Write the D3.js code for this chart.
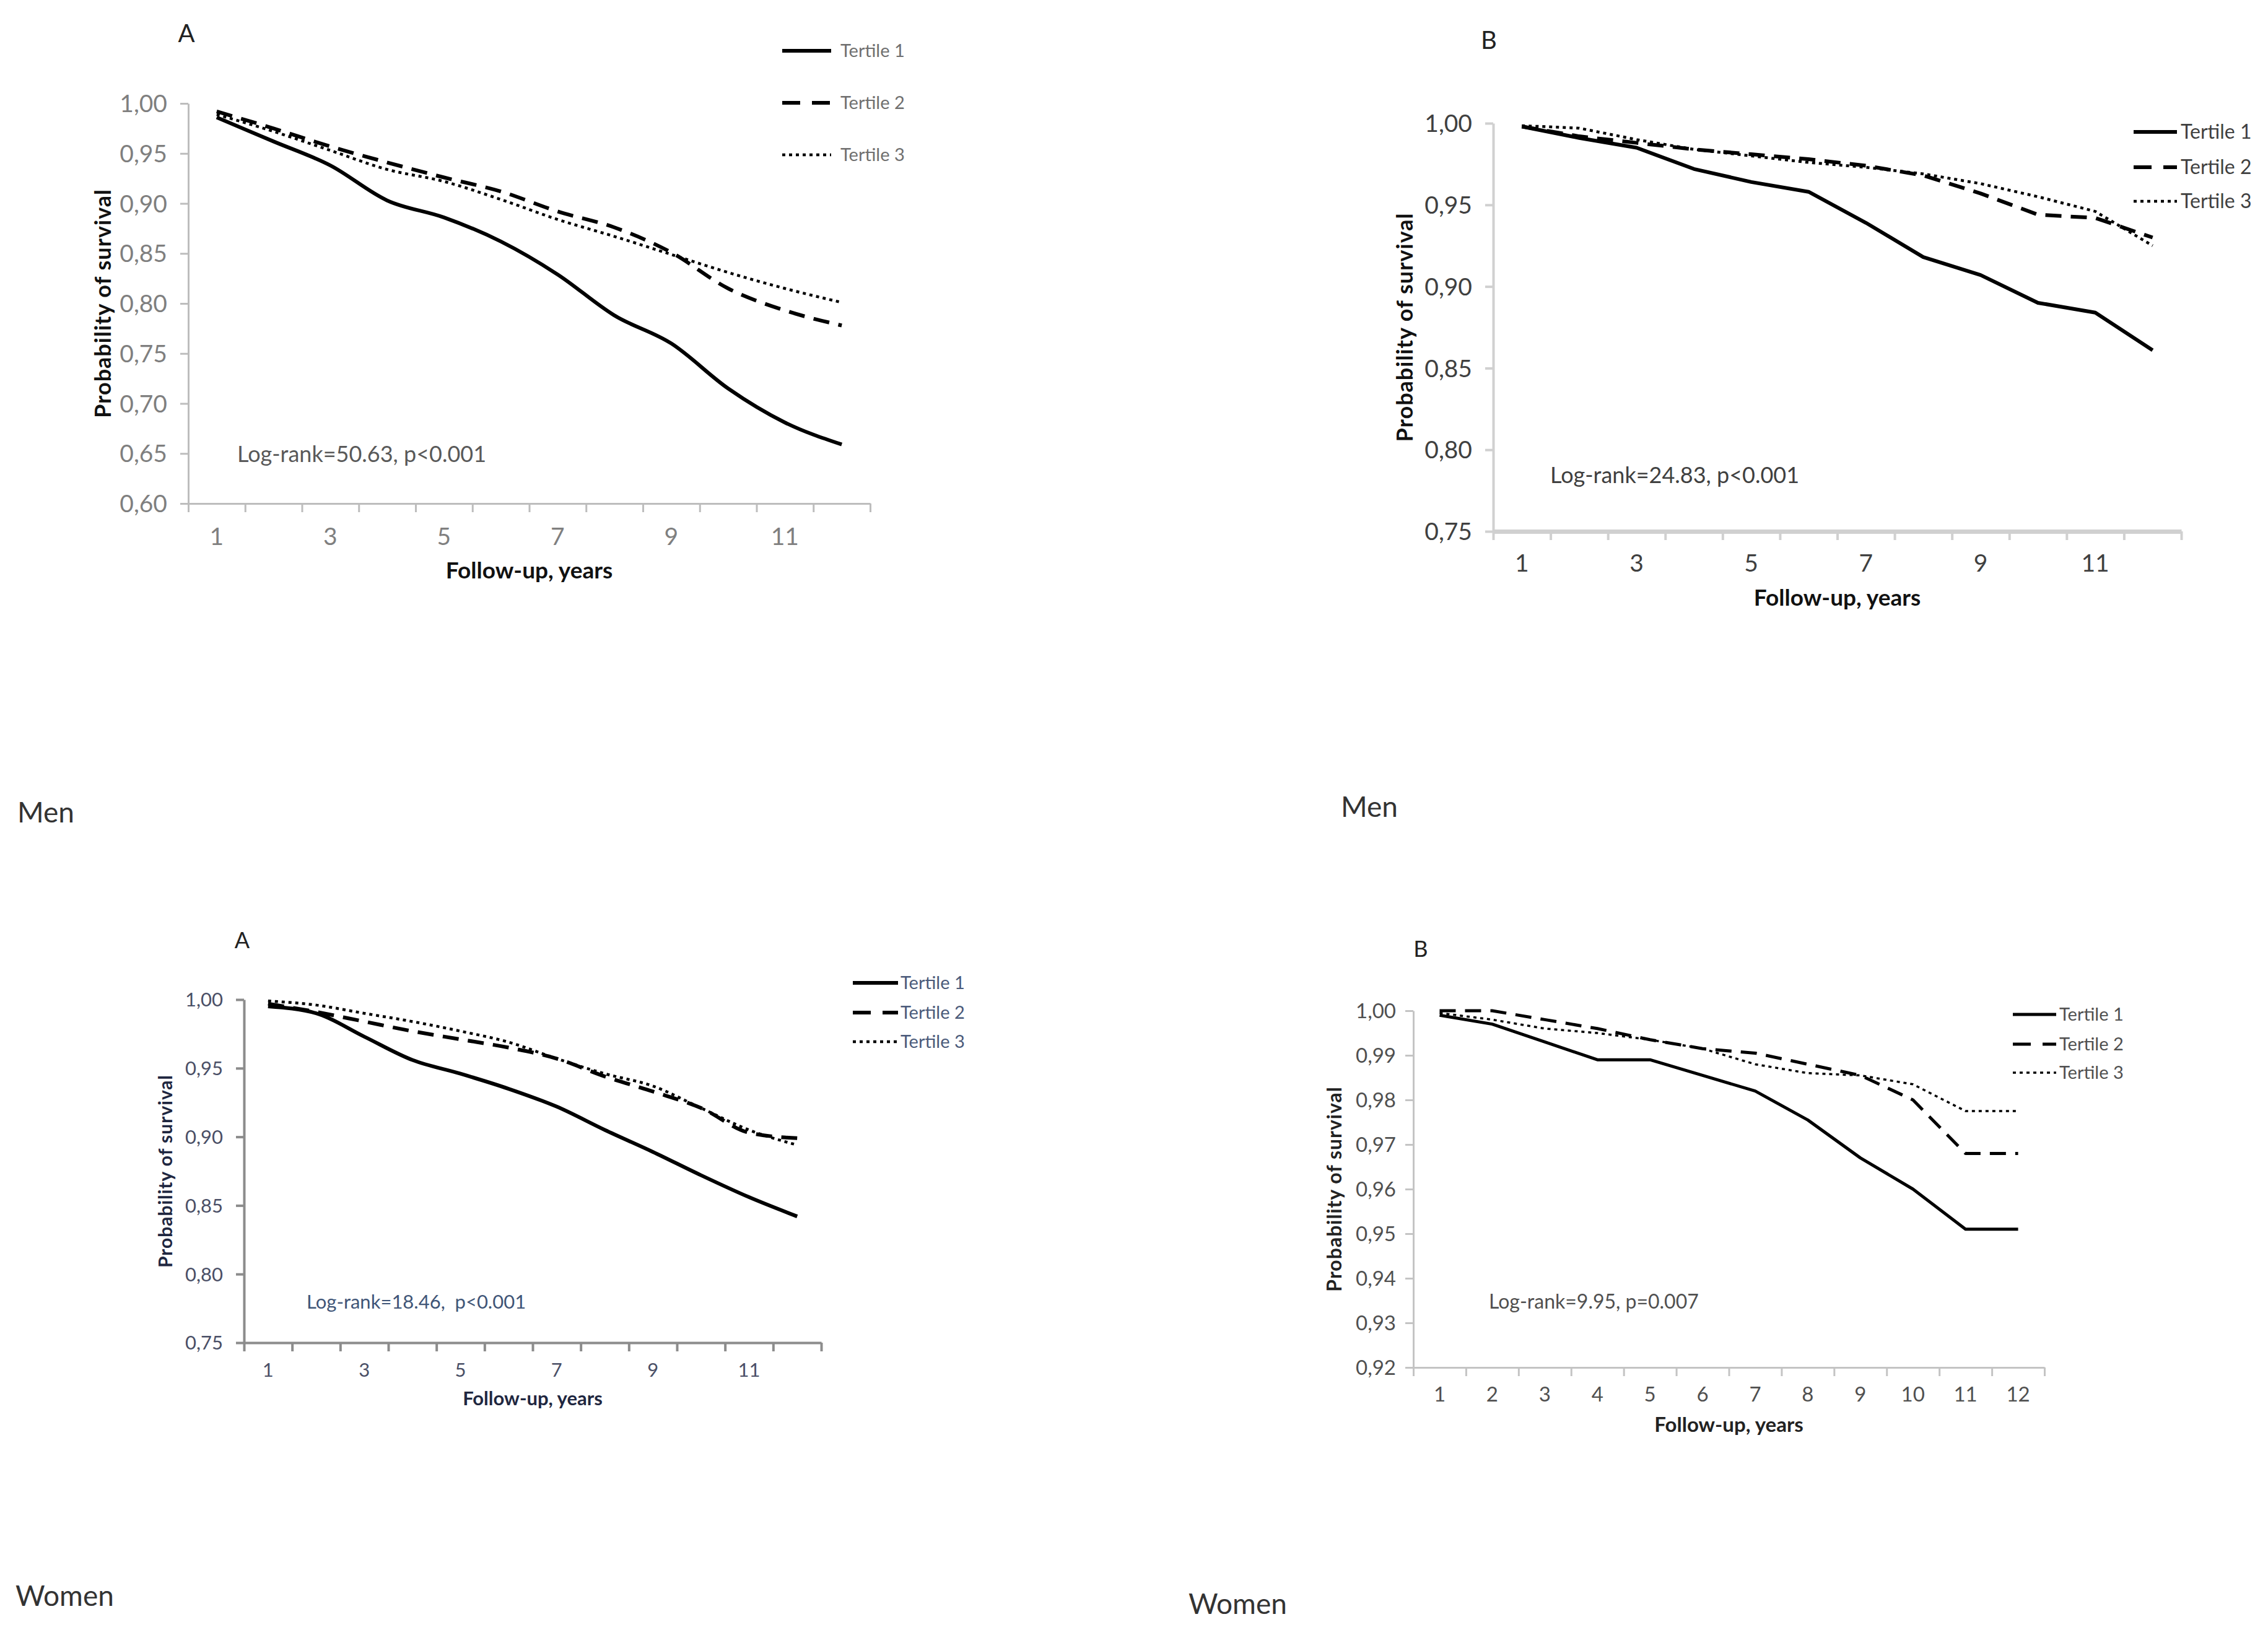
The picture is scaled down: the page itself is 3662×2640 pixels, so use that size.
<!DOCTYPE html>
<html>
<head>
<meta charset="utf-8">
<script src="https://cdn.jsdelivr.net/npm/d3@7"></script>
<style>
  html, body { margin: 0; padding: 0; background: #fff; }
  svg text { font-family: Lato, "Open Sans", sans-serif; }
</style>
</head>
<body>
<div id="chart"></div>
<script>
// follow-up years (categories)
var years = [1, 2, 3, 4, 5, 6, 7, 8, 9, 10, 11, 12];
var seriesNames = ["Tertile 1", "Tertile 2", "Tertile 3"];

// Men, panel A
var menA_t1 = [0.986, 0.962, 0.938, 0.903, 0.886, 0.862, 0.829, 0.788, 0.760, 0.715, 0.681, 0.659];
var menA_t2 = [0.992, 0.975, 0.957, 0.941, 0.926, 0.912, 0.892, 0.876, 0.851, 0.815, 0.793, 0.778];
var menA_t3 = [0.989, 0.972, 0.953, 0.934, 0.922, 0.904, 0.884, 0.867, 0.849, 0.831, 0.815, 0.801];
// Men, panel B
var menB_t1 = [0.998, 0.991, 0.985, 0.972, 0.964, 0.958, 0.939, 0.918, 0.907, 0.890, 0.884, 0.861];
var menB_t2 = [0.998, 0.992, 0.988, 0.984, 0.981, 0.978, 0.974, 0.968, 0.957, 0.944, 0.942, 0.930];
var menB_t3 = [0.9985, 0.997, 0.990, 0.984, 0.980, 0.976, 0.973, 0.969, 0.963, 0.955, 0.946, 0.925];
// Women, panel A
var womenA_t1 = [0.995, 0.990, 0.973, 0.956, 0.946, 0.935, 0.922, 0.905, 0.889, 0.872, 0.856, 0.842];
var womenA_t2 = [0.997, 0.991, 0.984, 0.977, 0.971, 0.965, 0.957, 0.944, 0.933, 0.921, 0.903, 0.899];
var womenA_t3 = [0.999, 0.996, 0.990, 0.984, 0.977, 0.969, 0.957, 0.946, 0.937, 0.921, 0.905, 0.894];
// Women, panel B
var womenB_t1 = [0.999, 0.997, 0.993, 0.989, 0.989, 0.9855, 0.982, 0.9755, 0.967, 0.960, 0.951, 0.951];
var womenB_t2 = [1.000, 1.000, 0.998, 0.996, 0.9935, 0.9915, 0.9905, 0.988, 0.9855, 0.980, 0.968, 0.968];
var womenB_t3 = [0.9995, 0.998, 0.996, 0.995, 0.9935, 0.9915, 0.988, 0.986, 0.9855, 0.9835, 0.9775, 0.9775];

// tick labels
var yTicksMenA = [0.60, 0.65, 0.70, 0.75, 0.80, 0.85, 0.90, 0.95, 1.00];
var yTicksMenB = [0.75, 0.80, 0.85, 0.90, 0.95, 1.00];
var yTicksWomenA = [0.75, 0.80, 0.85, 0.90, 0.95, 1.00];
var yTicksWomenB = [0.92, 0.93, 0.94, 0.95, 0.96, 0.97, 0.98, 0.99, 1.00];
var xLabelsOdd = [1, 3, 5, 7, 9, 11];
var xLabelsAll = [1, 2, 3, 4, 5, 6, 7, 8, 9, 10, 11, 12];

var panelLetters = ["A", "B", "A", "B"];
var logRankTexts = ["Log-rank=50.63, p<0.001", "Log-rank=24.83, p<0.001", "Log-rank=18.46,  p<0.001", "Log-rank=9.95, p=0.007"];
var sexLabels = ["Men", "Men", "Women", "Women"];

var W = 3662, H = 2640;
var svg = d3.select("#chart").append("svg")
    .attr("width", W)
    .attr("height", H)
    .attr("viewBox", "0 0 " + W + " " + H);

var dashes = [null, "26,15", "5,6"];

// layout of each panel (pixels)
var panels = [
    {
        series: [menA_t1, menA_t2, menA_t3], yTicks: yTicksMenA, xLabels: xLabelsOdd,
        left: 304, right: 1405, top: 167, bottom: 813, smooth: true,
        axisColor: "#bdbdbd", axisWidth: 3, tickColor: "#7f7f7f", tickFont: 39, tickGap: 34,
        xLabelY: 866, titleY: 921, titleFont: 37, yTitleFont: 36, titleColor: "#111",
        yTitleX: 166, letter: [301, 54], letterFont: 40,
        logRank: [383, 733], logFont: 36, logColor: "#595959",
        legend: { x1: 1263, x2: 1342, tx: 1357, ys: [82, 166, 250], font: 29, color: "#6f6f6f" },
        lineWidth: 6
    },
    {
        series: [menB_t1, menB_t2, menB_t3], yTicks: yTicksMenB, xLabels: xLabelsOdd,
        left: 2411, right: 3522, top: 199, bottom: 858, smooth: false,
        axisColor: "#d0d0d0", axisWidth: 4, tickColor: "#404040", tickFont: 39, tickGap: 34,
        xLabelY: 909, titleY: 965, titleFont: 37, yTitleFont: 36, titleColor: "#111",
        yTitleX: 2268, letter: [2404, 65], letterFont: 40,
        logRank: [2503, 767], logFont: 36, logColor: "#404040",
        legend: { x1: 3445, x2: 3515, tx: 3521, ys: [213, 270, 325], font: 32, color: "#404040" },
        lineWidth: 6
    },
    {
        series: [womenA_t1, womenA_t2, womenA_t3], yTicks: yTicksWomenA, xLabels: xLabelsOdd,
        left: 394, right: 1326, top: 1614, bottom: 2168, smooth: true,
        axisColor: "#8c8c8c", axisWidth: 4, tickColor: "#4a4f66", tickFont: 31, tickGap: 34,
        xLabelY: 2212, titleY: 2258, titleFont: 31, yTitleFont: 30, titleColor: "#1f2740",
        yTitleX: 267, letter: [391, 1518], letterFont: 36,
        logRank: [495, 2102], logFont: 31, logColor: "#3f5577",
        legend: { x1: 1377, x2: 1450, tx: 1454, ys: [1587, 1635, 1682], font: 29, color: "#4a5a7a" },
        lineWidth: 6
    },
    {
        series: [womenB_t1, womenB_t2, womenB_t3], yTicks: yTicksWomenB, xLabels: xLabelsAll,
        left: 2282, right: 3301, top: 1632, bottom: 2208, smooth: false,
        axisColor: "#c4c4c4", axisWidth: 3, tickColor: "#505050", tickFont: 33, tickGap: 28,
        xLabelY: 2251, titleY: 2300, titleFont: 33, yTitleFont: 32, titleColor: "#222",
        yTitleX: 2155, letter: [2294, 1532], letterFont: 36,
        logRank: [2404, 2102], logFont: 32, logColor: "#505050",
        legend: { x1: 3250, x2: 3320, tx: 3325, ys: [1638, 1686, 1732], font: 29, color: "#505050" },
        lineWidth: 5
    }
];

function comma(d) { return d.toFixed(2).replace(".", ","); }

panels.forEach(function (p, pi) {
    var g = svg.append("g");

    var x = d3.scaleLinear().domain([0.5, 12.5]).range([p.left, p.right]);
    var y = d3.scaleLinear().domain([d3.min(p.yTicks), d3.max(p.yTicks)]).range([p.bottom, p.top]);

    // y axis
    var yAxis = g.append("g")
        .attr("transform", "translate(" + p.left + ",0)")
        .call(d3.axisLeft(y).tickValues(p.yTicks).tickFormat(comma).tickSize(13).tickSizeOuter(0).tickPadding(p.tickGap - 13));
    yAxis.select(".domain").attr("stroke", p.axisColor).attr("stroke-width", p.axisWidth);
    yAxis.selectAll(".tick line").attr("stroke", p.axisColor).attr("stroke-width", p.axisWidth);
    yAxis.selectAll(".tick text").attr("fill", p.tickColor).attr("font-size", p.tickFont).attr("dy", "0.35em");

    // x axis: tick marks between categories
    var edges = d3.range(0.5, 13, 1);
    var xAxis = g.append("g")
        .attr("transform", "translate(0," + p.bottom + ")")
        .call(d3.axisBottom(x).tickValues(edges).tickFormat("").tickSize(14).tickSizeOuter(0));
    xAxis.select(".domain").attr("stroke", p.axisColor).attr("stroke-width", pi == 1 ? 7 : p.axisWidth);
    xAxis.selectAll(".tick line").attr("stroke", p.axisColor).attr("stroke-width", p.axisWidth);

    // x labels at category centres
    g.append("g").selectAll("text")
        .data(p.xLabels)
        .enter()
        .append("text")
        .attr("x", function (d) { return x(d); })
        .attr("y", p.xLabelY)
        .attr("dy", "0.35em")
        .attr("text-anchor", "middle")
        .attr("font-size", p.tickFont)
        .attr("fill", p.tickColor)
        .text(function (d) { return d; });

    // axis titles
    g.append("text")
        .attr("x", (p.left + p.right) / 2)
        .attr("y", p.titleY)
        .attr("dy", "0.35em")
        .attr("text-anchor", "middle")
        .attr("font-weight", "bold")
        .attr("font-size", p.titleFont)
        .attr("fill", p.titleColor)
        .text("Follow-up, years");

    g.append("text")
        .attr("transform", "translate(" + p.yTitleX + "," + (p.top + p.bottom) / 2 + ") rotate(-90)")
        .attr("dy", "0.35em")
        .attr("text-anchor", "middle")
        .attr("font-weight", "bold")
        .attr("font-size", p.yTitleFont)
        .attr("letter-spacing", 1)
        .attr("fill", p.titleColor)
        .text("Probability of survival");

    // panel letter
    g.append("text")
        .attr("x", p.letter[0])
        .attr("y", p.letter[1])
        .attr("dy", "0.35em")
        .attr("text-anchor", "middle")
        .attr("font-size", p.letterFont)
        .attr("fill", "#222")
        .text(panelLetters[pi]);

    // log-rank annotation
    g.append("text")
        .attr("x", p.logRank[0])
        .attr("y", p.logRank[1])
        .attr("dy", "0.35em")
        .attr("font-size", p.logFont)
        .attr("fill", p.logColor)
        .style("white-space", "pre")
        .text(logRankTexts[pi]);

    // survival lines
    var line = d3.line()
        .x(function (d, i) { return x(years[i]); })
        .y(function (d) { return y(d); })
        .curve(p.smooth ? d3.curveMonotoneX : d3.curveLinear);

    p.series.forEach(function (s, si) {
        g.append("path")
            .datum(s)
            .attr("d", line)
            .attr("fill", "none")
            .attr("stroke", "#000")
            .attr("stroke-width", si == 2 ? p.lineWidth - 1.5 : p.lineWidth)
            .attr("stroke-dasharray", dashes[si])
            .attr("stroke-linejoin", "round");
    });

    // legend
    seriesNames.forEach(function (name, si) {
        var ly = p.legend.ys[si];
        g.append("line")
            .attr("x1", p.legend.x1).attr("x2", p.legend.x2)
            .attr("y1", ly).attr("y2", ly)
            .attr("stroke", "#000")
            .attr("stroke-width", si == 2 ? p.lineWidth - 1.5 : p.lineWidth)
            .attr("stroke-dasharray", si == 1 ? "29,19" : dashes[si]);
        g.append("text")
            .attr("x", p.legend.tx)
            .attr("y", ly)
            .attr("dy", "0.35em")
            .attr("font-size", p.legend.font)
            .attr("fill", p.legend.color)
            .text(name);
    });
});

// Men / Women captions
var captionPos = [[28, 1312], [2165, 1303], [25, 2577], [1919, 2590]];
svg.append("g").selectAll("text")
    .data(sexLabels)
    .enter()
    .append("text")
    .attr("x", function (d, i) { return captionPos[i][0]; })
    .attr("y", function (d, i) { return captionPos[i][1]; })
    .attr("dy", "0.35em")
    .attr("font-size", 46)
    .attr("fill", "#333")
    .text(function (d) { return d; });
</script>
</body>
</html>
